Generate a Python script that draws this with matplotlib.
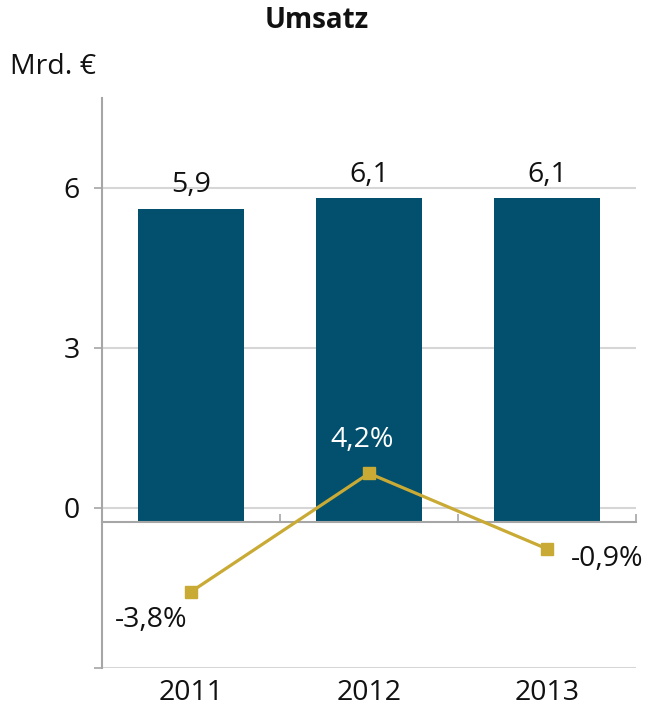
import matplotlib
matplotlib.use("Agg")
import matplotlib.pyplot as plt

plt.rcParams['font.family'] = ['Open Sans', 'DejaVu Sans']

years = ['2011', '2012', '2013']  # categories
umsatz = [5.9, 6.1, 6.1]  # Mrd. Euro
wachstum = [-3.8, 4.2, -0.9]  # Veraenderung in %
y_ticks = [-3, 0, 3, 6]
y_labels = ['', '0', '3', '6']

bar_color = '#02506d'
line_color = '#c9aa35'
axis_gray = '#a6a6a6'
grid_gray = '#d6d6d6'
fs = 20.5

W, H = 654, 710
fig = plt.figure(figsize=(W / 100, H / 100), dpi=100)
pos = [102 / W, 1 - 668 / H, (636 - 102) / W, (668 - 98) / H]
x = list(range(len(years)))

# base axes: grid, y labels, category labels
ax = fig.add_axes(pos)
ax.set_xlim(-0.5, 2.5)
ax.set_ylim(-3, 7.6875)
ax.set_yticks(y_ticks)
ax.set_yticklabels(y_labels)
ax.set_xticks(x)
ax.set_xticklabels(years)
ax.yaxis.grid(True, color=grid_gray, linewidth=1.5)
ax.set_axisbelow(True)
for s in ['top', 'right', 'bottom']:
    ax.spines[s].set_visible(False)
ax.spines['left'].set_color(axis_gray)
ax.spines['left'].set_linewidth(1.5)
ax.tick_params(axis='y', length=6, width=1.2, color=axis_gray, pad=10, labelsize=fs, labelcolor='#111111')
ax.tick_params(axis='x', length=0, pad=8, labelsize=fs, labelcolor='#111111')

# bar axes with its own baseline
ax2 = fig.add_axes(pos)
ax2.patch.set_visible(False)
ax2.set_xlim(-0.5, 2.5)
ax2.set_ylim(-2.752, 7.993)
ax2.bar(x, umsatz, width=0.59, color=bar_color)
for xi, v in zip(x, umsatz):
    ax2.annotate(f"{v:.1f}".replace('.', ','), (xi, v), xytext=(0, 12), textcoords='offset points',
                 ha='center', va='baseline', fontsize=fs, color='#111111')
for s in ['top', 'right', 'left']:
    ax2.spines[s].set_visible(False)
ax2.spines['bottom'].set_position(('data', 0))
ax2.spines['bottom'].set_color(axis_gray)
ax2.spines['bottom'].set_linewidth(1.5)
ax2.set_yticks([])
ax2.set_xticks([0.5, 1.5, 2.5])
ax2.set_xticklabels([])
ax2.tick_params(axis='x', direction='in', length=6, width=1.2, color=axis_gray)

# growth line axes
ax3 = fig.add_axes(pos)
ax3.patch.set_visible(False)
ax3.set_xlim(-0.5, 2.5)
ax3.set_ylim(-8.95, 29.56)
ax3.axis('off')
ax3.plot(x, wachstum, color=line_color, linewidth=2.3, marker='s', markersize=8.5)
offsets = [(-29, -20, 'center', 'center', '#111111'),
           (-5, 24, 'center', 'center', 'white'),
           (17, -7, 'left', 'center', '#111111')]
for xi, v, (dx, dy, ha, va, c) in zip(x, wachstum, offsets):
    ax3.annotate(f"{v:.1f}%".replace('.', ','), (xi, v), xytext=(dx, dy), textcoords='offset points',
                 ha=ha, va=va, fontsize=fs, color=c)

fig.text(317 / W, 1 - 21 / H, 'Umsatz', ha='center', va='center', fontsize=20, fontweight='bold', color='#111111')
fig.text(10 / W, 1 - 67 / H, 'Mrd. €', ha='left', va='center', fontsize=fs, color='#111111')

fig.savefig('out.png', dpi=100)
